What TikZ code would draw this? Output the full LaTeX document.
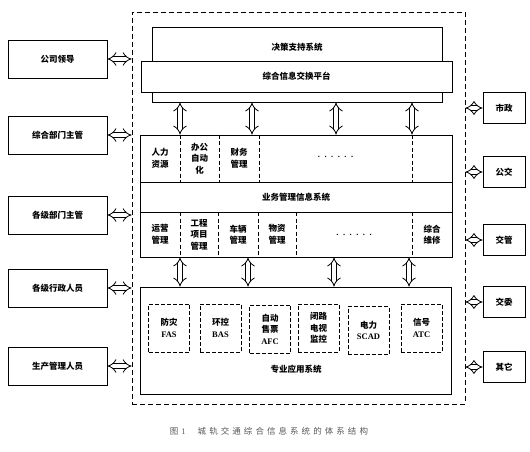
\documentclass[tikz,border=0pt]{standalone}
\usepackage{fontspec}
\setmainfont{Liberation Serif}
\newfontfamily\cjk{Noto Sans CJK SC}
\newfontfamily\capfont[LetterSpace=36]{Noto Sans CJK SC}
\usetikzlibrary{arrows.meta, calc}
\newcommand{\dotrow}{.\hspace{4.5pt}.\hspace{4.5pt}.\hspace{4.5pt}.\hspace{4.5pt}.\hspace{4.5pt}.}
\tikzset{
  txt/.style={inner sep=0pt, align=center, font=\cjk\bfseries\fontsize{8.5}{11.5}\selectfont},
  box/.style={txt, draw, line width=0.8pt},
  subbox/.style={box, dash pattern=on 4pt off 2pt, minimum width=41, minimum height=48},
  divider/.style={line width=0.7pt, dash pattern=on 4pt off 2.5pt},
  dblarrow/.style={double, double distance=4pt, line width=0.8pt, {Implies}-{Implies}},
}

\begin{document}
\begin{tikzpicture}[x=1pt, y=-1pt]
  \useasboundingbox (0,0) rectangle (530,452);

  % outer frame
  \node[draw, line width=0.7pt, dash pattern=on 5pt off 3pt, minimum width=333, minimum height=392] (frame) at (298.5,208) {};

  % decision support and exchange platform
  \node[box, minimum width=290, minimum height=75] (dss) at (297,64.5) {};
  \node[txt] (dsslabel) at (297,47) {决策支持系统};
  \node[box, fill=white, minimum width=311, minimum height=31] (xchg) at (296.5,76.5) {综合信息交换平台};

  % business management information system
  \node[box, minimum width=312, minimum height=122] (bms) at (296,196) {};
  \draw[line width=0.8pt] (bms.west |- 0,182) -- (bms.east |- 0,182);
  \draw[line width=0.8pt] (bms.west |- 0,212) -- (bms.east |- 0,212);
  \node[txt] (bmslabel) at (296,197) {业务管理信息系统};
  \foreach \x in {180,219,259,412}
    \draw[divider] (bms.north -| \x,0) -- (\x,182);
  \foreach \x in {180,218,258,296,412}
    \draw[divider] (\x,212) -- (bms.south -| \x,0);
  \node[txt] (hr)    at (160,158.5)   {人力\\资源};
  \node[txt] (oa)    at (199.5,158.5) {办公\\自动\\化};
  \node[txt] (fin)   at (239,158.5)   {财务\\管理};
  \node[txt, font=\rmfamily\bfseries\fontsize{8.5}{10}\selectfont] (dotsa) at (335.5,157) {\dotrow};
  \node[txt] (ops)   at (160,234.5)   {运营\\管理};
  \node[txt] (proj)  at (199,234.5)   {工程\\项目\\管理};
  \node[txt] (veh)   at (238,234.5)   {车辆\\管理};
  \node[txt] (mat)   at (277,234.5)   {物资\\管理};
  \node[txt, font=\rmfamily\bfseries\fontsize{8.5}{10}\selectfont] (dotsb) at (354,235) {\dotrow};
  \node[txt] (maint) at (432,234.5)   {综合\\维修};

  % specialised application systems
  \node[box, minimum width=311, minimum height=107] (spec) at (295.5,340.5) {};
  \node[txt] (speclabel) at (296,369) {专业应用系统};
  \node[subbox] (fas)  at (169,328)   {防灾\\{\rmfamily FAS}};
  \node[subbox] (bas)  at (220.5,328) {环控\\{\rmfamily BAS}};
  \node[subbox] (afc)  at (270,329)   {自动\\售票\\{\rmfamily AFC}};
  \node[subbox] (cctv) at (318.5,328) {闭路\\电视\\监控};
  \node[subbox] (scad) at (368.5,330.5) {电力\\{\rmfamily SCAD}};
  \node[subbox] (atc)  at (421.5,328) {信号\\{\rmfamily ATC}};

  % vertical links
  \foreach \x in {180,252,336,412}
    \draw[dblarrow] (dss.south -| \x,0) -- (bms.north -| \x,0);
  \foreach \x in {180,248,334,409}
    \draw[dblarrow] (bms.south -| \x,0) -- (spec.north -| \x,0);

  % users on the left
  \foreach \y/\t/\n in {59/公司领导/lead, 135/综合部门主管/dept, 215/各级部门主管/unit,
                        288/各级行政人员/admin, 366/生产管理人员/prod} {
    \node[box, minimum width=99, minimum height=38] (\n) at (57.5,\y) {\t};
    \draw[dblarrow] (\n.east) -- (\n.east -| frame.west);
  }

  % external agencies on the right
  \foreach \y/\t/\n in {108/市政/muni, 172/公交/bus, 240/交管/traf,
                        302/交委/comm, 367/其它/other} {
    \node[box, minimum width=42, minimum height=31] (\n) at (504,\y) {\t};
    \draw[dblarrow] (\n.west -| frame.east) -- (\n.west);
  }

  % caption
  \node[inner sep=0pt, text=black!65, font=\fontsize{8.5}{10}\selectfont] (caption) at (269,431)
    {{\capfont 图}\hspace{3pt}1\hspace{12pt}{\capfont 城轨交通综合信息系统的体系结构}};
\end{tikzpicture}
\end{document}
